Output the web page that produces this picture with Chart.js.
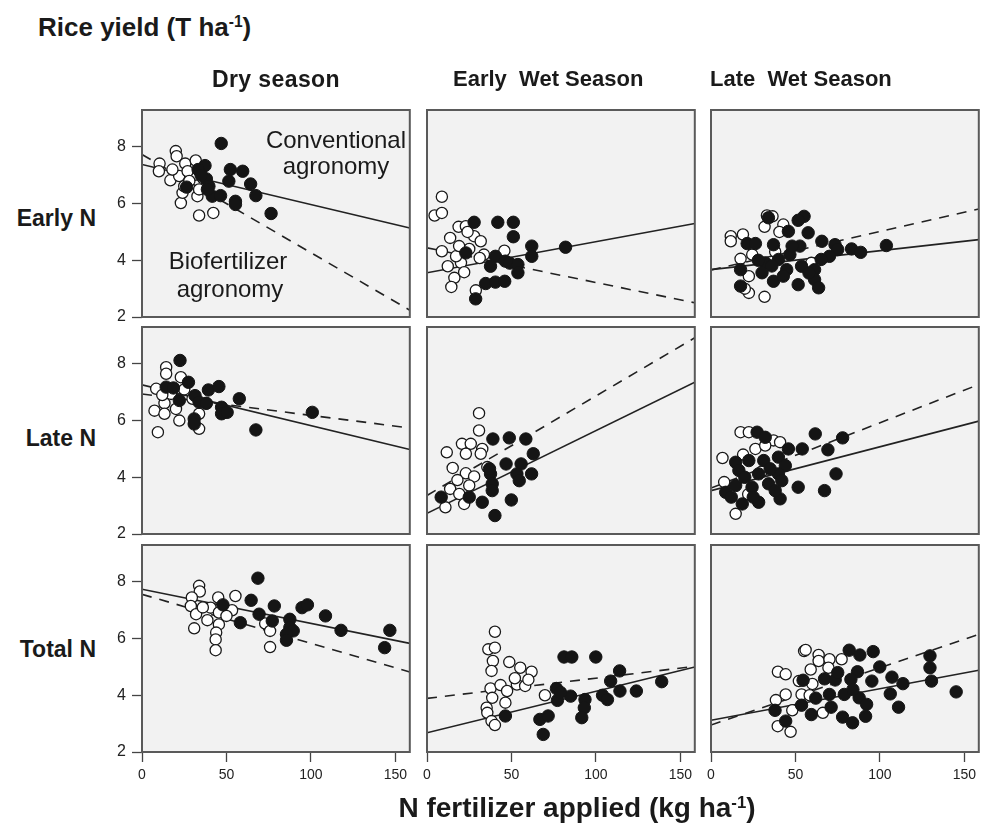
<!DOCTYPE html>
<html><head><meta charset="utf-8">
<script src="https://cdn.jsdelivr.net/npm/chart.js@4.4.1/dist/chart.umd.min.js"></script>
<style>
html,body{margin:0;padding:0;background:#fff;}
body{width:984px;height:835px;position:relative;overflow:hidden;font-family:"Liberation Sans",Arial,sans-serif;color:#1a1a1a;}
canvas{position:absolute;z-index:1;}
.t{position:absolute;white-space:pre;z-index:5;}
.b{font-weight:bold;}
sup{font-size:60%;vertical-align:0;position:relative;top:-0.55em;}
</style></head><body>
<script>
// ---- categories / labels ----
const seasons = ["Dry season", "Early  Wet Season", "Late  Wet Season"];
const timings = ["Early N", "Late N", "Total N"];
const xTickValues = [0, 50, 100, 150];
const yTickValues = [2, 4, 6, 8];
const xDomain = [0, 158.5];
const yDomain = [2, 9.3];

// ---- points [N applied, yield]; open = biofertilizer, filled = conventional ----
const dryEarlyOpen = [[10.4,7.41],[10,7.14],[20,7.85],[20.5,7.67],[16.8,6.82],[25.6,7.41],[31.8,7.52],[23,6.02],[33.8,5.58],[42.2,5.67],[24,6.38],[32.8,6.26],[25,6.61],[31.8,7.02],[22,6.97],[33.8,6.5],[27,7.14],[28,6.8],[18,7.2],[36,6.9]];
const dryEarlyFilled = [[46.9,8.12],[37.3,7.34],[33.2,7.2],[38.1,6.87],[39.6,6.61],[26.4,6.58],[41.6,6.26],[46.5,6.28],[52.3,7.2],[59.6,7.14],[51.4,6.79],[64.3,6.69],[67.4,6.28],[55.3,6.08],[55.3,5.97],[76.4,5.65],[38.7,6.5],[35,7.0]];
const ewEarlyOpen = [[8.8,6.24],[4.5,5.58],[8.8,5.67],[18.7,5.18],[23,5.2],[13.7,4.79],[27.9,4.85],[31.8,4.67],[8.8,4.32],[25,4.4],[33.7,4.2],[45.8,4.34],[12.3,3.79],[16.2,3.38],[14.4,3.06],[20.1,3.91],[22,3.58],[17.2,4.14],[28.9,2.94],[31.2,4.08],[24,5.0],[19,4.5]];
const ewEarlyFilled = [[27.9,5.34],[41.9,5.34],[51.1,5.34],[51.1,4.83],[23,4.26],[40.5,4.14],[37.6,3.79],[46.4,3.97],[49,3.9],[53.8,3.85],[53.8,3.56],[62,4.5],[62,4.14],[82,4.46],[34.7,3.18],[40.5,3.23],[46,3.26],[28.8,2.64]];
const lwEarlyOpen = [[11.7,4.85],[11.7,4.67],[18.9,4.91],[33.1,5.58],[36.4,5.55],[31.7,5.18],[42.8,5.26],[17.5,4.05],[24.4,4.2],[22.4,3.44],[22.4,2.85],[31.7,2.71],[59.4,3.91],[40.5,5.0],[20,3.0],[38,4.3]];
const lwEarlyFilled = [[34,5.5],[55.1,5.55],[51.6,5.41],[57.5,4.97],[45.8,5.02],[21.4,4.59],[26.3,4.59],[37,4.55],[52.6,4.5],[65.6,4.67],[73.4,4.55],[75,4.38],[83.2,4.4],[88.6,4.28],[103.8,4.52],[70.1,4.14],[65.2,4.03],[17.5,3.67],[32.1,3.91],[40,4.03],[46.7,4.2],[44.8,3.67],[53.6,3.79],[61.3,3.67],[30.2,3.56],[37,3.26],[51.6,3.14],[61.3,3.32],[63.7,3.03],[17.5,3.09],[42.8,3.44],[58,3.55],[48,4.5],[28,4.0],[36,3.8]];
const dryLateOpen = [[14.3,7.88],[14.3,7.65],[23,7.53],[8.4,7.12],[7.4,6.35],[13.3,6.61],[13.3,6.24],[20.1,6.41],[22.1,6.0],[9.4,5.59],[33.8,5.71],[33.8,6.24],[17.2,6.94],[29.9,6.77],[38,6.6],[12,6.9],[25,7.1]];
const dryLateFilled = [[22.5,8.12],[27.5,7.35],[14.3,7.18],[18.6,7.15],[22.1,6.71],[31.4,6.88],[33.8,6.65],[39.3,7.08],[45.5,7.2],[38.1,6.61],[30.9,6.06],[30.9,5.88],[47.1,6.47],[47.1,6.24],[50.4,6.29],[57.6,6.77],[67.4,5.67],[100.8,6.29]];
const ewLateOpen = [[30.8,6.26],[30.8,5.65],[20.7,5.18],[25.9,5.18],[32.7,5.0],[11.7,4.88],[23,4.83],[31.8,4.83],[15.2,4.33],[23,4.14],[27.9,4.03],[35.7,4.36],[13.7,3.59],[19.1,3.41],[25,3.71],[22,3.06],[10.9,2.94],[18,3.9]];
const ewLateFilled = [[39,5.35],[48.7,5.39],[58.5,5.35],[62.9,4.83],[46.8,4.47],[55.7,4.47],[53.2,4.12],[61.9,4.12],[54.6,3.88],[37.6,4.12],[38.6,3.77],[38.6,3.53],[8.4,3.3],[25,3.3],[32.7,3.12],[49.9,3.2],[40.2,2.65],[37,4.3]];
const lwLateOpen = [[17.5,5.59],[22.4,5.59],[6.8,4.68],[26.3,5.0],[37,5.3],[40.9,5.24],[32.1,5.12],[7.8,3.83],[14.6,2.71],[22,3.4],[30,4.2],[19,4.8]];
const lwLateFilled = [[27.3,5.59],[32.1,5.41],[61.7,5.53],[77.9,5.39],[54,5.0],[45.8,5.0],[69.2,4.97],[39.9,4.71],[14.6,4.53],[22.4,4.59],[31.2,4.59],[44,4.41],[74,4.12],[16.5,4.24],[28.2,4.12],[39.9,4.12],[51.6,3.65],[67.2,3.53],[8.7,3.47],[14.6,3.71],[24.3,3.65],[34.1,3.77],[40.9,3.24],[18.5,3.06],[28.2,3.12],[38,3.53],[41.9,3.88],[20,4.0],[35,4.3],[12,3.3],[25,3.3]];
const dryTotalOpen = [[33.8,7.86],[34.2,7.66],[29.5,7.45],[28.9,7.15],[32,6.86],[30.9,6.36],[38.7,6.65],[40.6,7.09],[45.1,7.45],[45.5,6.92],[45.5,6.5],[43.9,6.21],[43.6,5.97],[43.6,5.59],[55.3,7.5],[53.3,7.0],[72.9,6.53],[75.8,6.27],[75.8,5.7],[36,7.1],[50,6.8]];
const dryTotalFilled = [[68.6,8.13],[47.9,7.19],[64.6,7.35],[69.3,6.86],[78.3,7.15],[58.2,6.56],[77.1,6.62],[87.5,6.68],[87.5,6.39],[89.5,6.27],[85.5,6.15],[85.5,5.94],[94.7,7.09],[97.9,7.19],[108.6,6.8],[117.8,6.29],[146.7,6.29],[143.6,5.68]];
const ewTotalOpen = [[40.2,6.24],[36.3,5.62],[40.2,5.68],[39,5.21],[38.2,4.86],[48.7,5.17],[55.2,4.97],[61.9,4.83],[37.6,4.24],[43.5,4.36],[53.2,4.38],[58.1,4.33],[47.4,4.15],[38.6,3.91],[35.3,3.56],[35.7,3.38],[46.4,3.74],[38.2,3.09],[40.2,2.95],[69.8,4.0],[52,4.6],[60,4.55]];
const ewTotalFilled = [[81.1,5.35],[85.7,5.35],[99.9,5.35],[114,4.86],[108.7,4.5],[76.6,4.24],[77.2,3.82],[85,3.97],[93.5,3.85],[93.1,3.56],[91.6,3.21],[103.9,4.0],[106.8,3.85],[114.2,4.15],[123.9,4.15],[138.9,4.48],[46.4,3.27],[66.8,3.15],[71.7,3.27],[68.8,2.62],[79,4.1]];
const lwTotalOpen = [[55.1,5.56],[56,5.6],[39.6,4.83],[44.2,4.74],[63.7,5.42],[63.7,5.21],[70.1,5.27],[77.3,5.27],[59,4.91],[69.5,4.97],[38.4,3.83],[44.2,4.03],[53.6,4.03],[58.4,4.0],[48.1,3.47],[66.2,3.38],[39.5,2.91],[47.1,2.71],[52,4.5],[60,4.4]];
const lwTotalFilled = [[81.8,5.59],[88.1,5.42],[96,5.54],[99.9,5.0],[129.6,5.39],[129.6,4.97],[130.5,4.5],[145.1,4.12],[113.6,4.41],[107.1,4.64],[106.1,4.05],[111,3.58],[86.7,4.83],[82.8,4.56],[95.2,4.5],[67.2,4.58],[73.5,4.54],[54.5,4.53],[70.1,4.03],[78.9,4.03],[87.7,3.91],[92.1,3.68],[71.1,3.58],[59.4,3.32],[53.6,3.65],[37.9,3.47],[44.2,3.09],[77.9,3.23],[83.8,3.03],[91.5,3.26],[84,4.2],[62,3.9],[75,4.8]];

// ---- fitted lines: yield at N = 0 and at the right end of the axis ----
const conventionalFit = [[7.38,5.14],[3.56,5.30],[3.67,4.73],[7.26,4.98],[2.73,7.35],[3.53,5.98],[7.74,5.83],[2.68,5.00],[3.12,4.88]];
const biofertilizerFit = [[7.73,2.24],[4.44,2.50],[3.66,5.81],[6.94,5.74],[3.36,8.92],[3.62,7.27],[7.56,4.82],[3.89,5.02],[2.95,6.15]];

const openSets = [dryEarlyOpen, ewEarlyOpen, lwEarlyOpen, dryLateOpen, ewLateOpen, lwLateOpen, dryTotalOpen, ewTotalOpen, lwTotalOpen];
const filledSets = [dryEarlyFilled, ewEarlyFilled, lwEarlyFilled, dryLateFilled, ewLateFilled, lwLateFilled, dryTotalFilled, ewTotalFilled, lwTotalFilled];

// ---- layout ----
const colLeft = [142, 427, 711];
const rowTop = [110, 327, 545];
const panelW = 271, panelH = 207;
const AX_W = 40, AX_H = 45, PAD_T = 20, PAD_R = 4;

function addText(txt, opts) {
  const d = document.createElement('div');
  d.className = 't' + (opts.bold ? ' b' : '');
  d.innerHTML = txt;
  const fs = opts.size;
  d.style.fontSize = fs + 'px';
  d.style.lineHeight = fs + 'px';
  if (opts.family) d.style.fontFamily = opts.family;
  if (opts.ls) d.style.letterSpacing = opts.ls + 'px';
  const top = opts.baseline - (fs - 1.117 * fs) / 2 - 0.905 * fs;
  d.style.top = top + 'px';
  if (opts.align === 'center') { d.style.left = (opts.x - 500) + 'px'; d.style.width = '1000px'; d.style.textAlign = 'center'; }
  else if (opts.align === 'right') { d.style.left = (opts.x - 1000) + 'px'; d.style.width = '1000px'; d.style.textAlign = 'right'; }
  else d.style.left = opts.x + 'px';
  document.body.appendChild(d);
}

addText('Rice yield (T ha<sup>-1</sup>)', {x: 38, baseline: 36, size: 26, bold: true});
const headerX = [212, 453, 710];
seasons.forEach((s, i) => addText(s, {x: headerX[i], baseline: 87, size: i === 0 ? 23 : 22, bold: true, ls: i === 0 ? 0.4 : 0}));
const rowLabelBase = [226, 446, 657];
timings.forEach((s, i) => addText(s, {x: 96, baseline: rowLabelBase[i], size: 23, bold: true, align: 'right'}));
addText('N fertilizer applied (kg ha<sup>-1</sup>)', {x: 577, baseline: 818, size: 28, bold: true, align: 'center'});
addText('Conventional', {x: 336, baseline: 148, size: 24, align: 'center'});
addText('agronomy', {x: 336, baseline: 174, size: 24, align: 'center'});
addText('Biofertilizer', {x: 228, baseline: 269, size: 24, align: 'center'});
addText('agronomy', {x: 230, baseline: 297, size: 24, align: 'center'});

const panelPlugin = {
  id: 'panel',
  beforeDraw(ch) {
    const a = ch.chartArea, c = ch.ctx;
    c.save(); c.fillStyle = '#f2f2f2'; c.fillRect(a.left, a.top, a.right - a.left, a.bottom - a.top); c.restore();
  },
  afterDraw(ch) {
    const a = ch.chartArea, c = ch.ctx;
    c.save(); c.strokeStyle = '#5a5a5a'; c.lineWidth = 2;
    c.strokeRect(a.left, a.top, a.right - a.left, a.bottom - a.top); c.restore();
  }
};

const toXY = arr => arr.map(p => ({x: p[0], y: p[1]}));

for (let r = 0; r < 3; r++) {
  for (let c = 0; c < 3; c++) {
    const k = r * 3 + c;
    const cv = document.createElement('canvas');
    const w = AX_W + panelW + PAD_R, h = PAD_T + panelH + AX_H;
    cv.width = w; cv.height = h;
    cv.style.left = (colLeft[c] - AX_W) + 'px';
    cv.style.top = (rowTop[r] - PAD_T) + 'px';
    cv.style.width = w + 'px'; cv.style.height = h + 'px';
    document.body.appendChild(cv);
    const showX = r === 2, showY = c === 0;
    new Chart(cv, {
      type: 'scatter',
      data: {
        datasets: [
          {data: toXY(filledSets[k]), pointRadius: 6.2, pointBackgroundColor: '#151515', pointBorderColor: '#151515', pointBorderWidth: 1, order: 1},
          {data: toXY(openSets[k]), pointRadius: 5.6, pointBackgroundColor: '#ffffff', pointBorderColor: '#1a1a1a', pointBorderWidth: 1.3, order: 2},
          {data: [{x: xDomain[0], y: conventionalFit[k][0]}, {x: xDomain[1], y: conventionalFit[k][1]}], showLine: true, pointRadius: 0, borderColor: '#222', borderWidth: 1.6, order: 3},
          {data: [{x: xDomain[0], y: biofertilizerFit[k][0]}, {x: xDomain[1], y: biofertilizerFit[k][1]}], showLine: true, pointRadius: 0, borderColor: '#222', borderWidth: 1.6, borderDash: [10, 8], order: 4}
        ]
      },
      options: {
        responsive: false, animation: false, devicePixelRatio: 1, events: [],
        layout: {padding: {top: PAD_T, right: PAD_R, left: 0, bottom: 0}},
        plugins: {legend: {display: false}, tooltip: {enabled: false}},
        scales: {
          x: {
            type: 'linear', min: xDomain[0], max: xDomain[1],
            afterFit(s) { s.height = AX_H; },
            afterBuildTicks(s) { s.ticks = xTickValues.map(v => ({value: v})); },
            ticks: {display: showX, padding: 5, color: '#222', font: {family: '"Liberation Sans",Arial', size: 14}, maxRotation: 0, autoSkip: false},
            grid: {display: true, drawOnChartArea: false, drawTicks: showX, tickLength: 10, color: '#444', tickWidth: 1.3},
            border: {display: false}
          },
          y: {
            type: 'linear', min: yDomain[0], max: yDomain[1],
            afterFit(s) { s.width = AX_W; },
            afterBuildTicks(s) { s.ticks = yTickValues.map(v => ({value: v})); },
            ticks: {display: showY, padding: 6, color: '#222', font: {family: '"Liberation Sans",Arial', size: 16}, autoSkip: false},
            grid: {display: true, drawOnChartArea: false, drawTicks: showY, tickLength: 10, color: '#444', tickWidth: 1.3},
            border: {display: false}
          }
        }
      },
      plugins: [panelPlugin]
    });
  }
}
</script>
</body></html>
